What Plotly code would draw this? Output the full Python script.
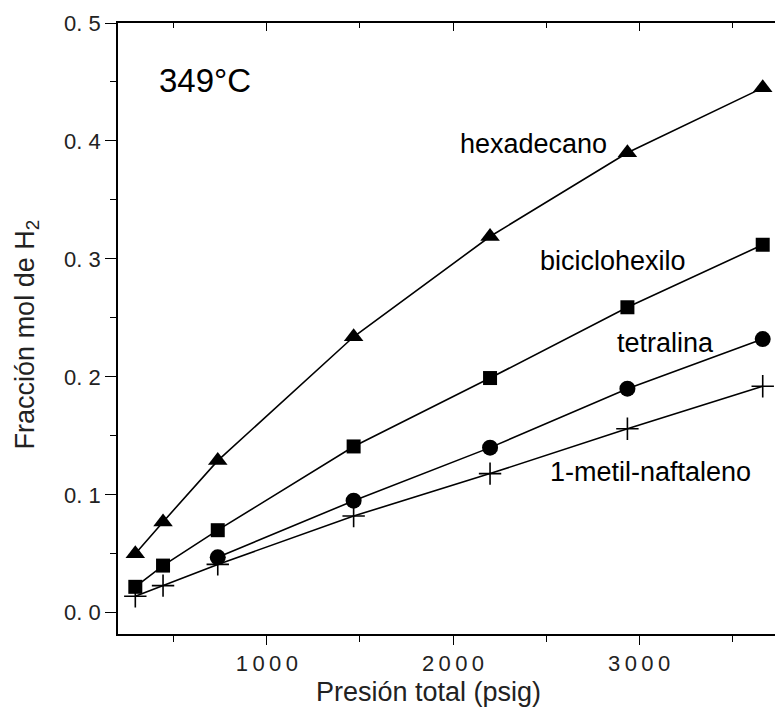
import plotly.graph_objects as go

# ---- data ----
pressure = [293, 442, 736, 1466, 2199, 2937, 3664]
pressure_tetralina = [736, 1466, 2199, 2937, 3664]
hexadecano = [0.050, 0.077, 0.129, 0.234, 0.319, 0.390, 0.445]
biciclohexilo = [0.022, 0.040, 0.070, 0.141, 0.199, 0.259, 0.312]
tetralina = [0.047, 0.095, 0.140, 0.190, 0.232]
metilnaftaleno = [0.014, 0.023, 0.041, 0.082, 0.118, 0.156, 0.192]

series_labels = ["hexadecano", "biciclohexilo", "tetralina", "1-metil-naftaleno"]
label_x = [2027, 2457, 2870, 2510]
label_y = [0.397, 0.298, 0.229, 0.119]

x_tickvals = [1000, 2000, 3000]
x_ticktext = ["1\u20090\u20090\u20090", "2\u20090\u20090\u20090", "3\u20090\u20090\u20090"]
y_tickvals = [0.0, 0.1, 0.2, 0.3, 0.4, 0.5]
y_ticktext = ["0. 0", "0. 1", "0. 2", "0. 3", "0. 4", "0. 5"]

FONT = "Liberation Sans, Arial, sans-serif"
line = dict(color="black", width=1.6)

fig = go.Figure()
fig.add_trace(go.Scatter(x=pressure, y=hexadecano, mode="lines+markers", line=line,
                         marker=dict(symbol="triangle-up", size=17, color="black")))
fig.add_trace(go.Scatter(x=pressure, y=biciclohexilo, mode="lines+markers", line=line,
                         marker=dict(symbol="square", size=14, color="black")))
fig.add_trace(go.Scatter(x=pressure_tetralina, y=tetralina, mode="lines+markers", line=line,
                         marker=dict(symbol="circle", size=16, color="black")))
fig.add_trace(go.Scatter(x=pressure, y=metilnaftaleno, mode="lines+markers", line=line,
                         marker=dict(symbol="cross-thin", size=16, color="black",
                                     line=dict(color="black", width=1.6))))

for t, lx, ly in zip(series_labels, label_x, label_y):
    fig.add_annotation(x=lx, y=ly, xref="x", yref="y", text=t, showarrow=False,
                       xanchor="left", yanchor="middle",
                       font=dict(family=FONT, size=27, color="black"))

fig.add_annotation(x=667, y=0.451, xref="x", yref="y", text="349°C", showarrow=False,
                   xanchor="center", yanchor="middle",
                   font=dict(family=FONT, size=33, color="black"))

fig.add_annotation(x=1866, y=-0.095, xref="x", yref="paper", text="Presión total (psig)",
                   showarrow=False, xanchor="center", yanchor="middle",
                   font=dict(family=FONT, size=27, color="#222"))
fig.add_annotation(x=-0.1385, y=0.236, xref="paper", yref="y", text="Fracción mol de H<sub>2</sub>",
                   showarrow=False, xanchor="center", yanchor="middle", textangle=-90,
                   font=dict(family=FONT, size=27, color="#222"))

XR = [200, 3730]
YR = [-0.018, 0.5]

fig.update_layout(
    width=775, height=708,
    margin=dict(l=118, r=0, t=23, b=74, autoexpand=False),
    paper_bgcolor="white", plot_bgcolor="white",
    showlegend=False,
    xaxis=dict(range=XR, showgrid=False, zeroline=False, showline=True,
               linecolor="black", linewidth=1.6,
               ticks="outside", ticklen=9, tickwidth=1.4, tickcolor="black",
               tickvals=x_tickvals, ticktext=x_ticktext,
               tickfont=dict(family=FONT, size=22, color="#222"),
               minor=dict(dtick=500, tick0=0, ticks="outside", ticklen=6,
                          tickwidth=1.4, tickcolor="black")),
    xaxis2=dict(range=XR, overlaying="x", side="top", showgrid=False, zeroline=False,
                showline=True, linecolor="black", linewidth=1.6,
                ticks="inside", ticklen=8, tickwidth=1.4, tickcolor="black",
                tickvals=x_tickvals, showticklabels=False,
                minor=dict(dtick=500, tick0=0, ticks="inside", ticklen=5,
                           tickwidth=1.4, tickcolor="black")),
    yaxis=dict(range=YR, showgrid=False, zeroline=False, showline=True,
               linecolor="black", linewidth=1.6,
               ticks="outside", ticklen=11, tickwidth=1.4, tickcolor="black",
               tickvals=y_tickvals, ticktext=y_ticktext,
               tickfont=dict(family=FONT, size=22, color="#222"),
               minor=dict(dtick=0.05, tick0=0, ticks="outside", ticklen=6,
                          tickwidth=1.4, tickcolor="black")),
)
# invisible trace to activate the top axis
fig.add_trace(go.Scatter(x=[XR[0]], y=[YR[0]], xaxis="x2", mode="markers",
                         marker=dict(opacity=0), hoverinfo="skip"))

fig.write_html("out.html", config={"displayModeBar": False},
               post_script="document.body.style.margin='0px';document.body.style.overflow='hidden';")
